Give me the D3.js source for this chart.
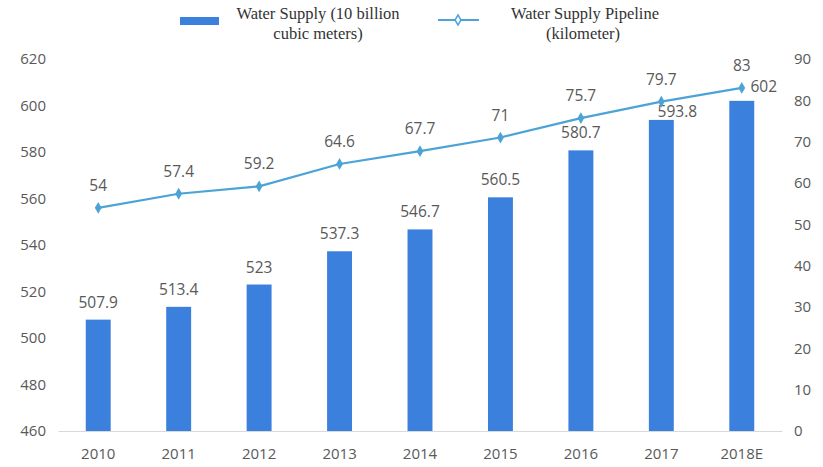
<!DOCTYPE html>
<html>
<head>
<meta charset="utf-8">
<script src="https://cdn.jsdelivr.net/npm/d3@7"></script>
<style>
body { margin: 0; background: #fff; }
text { font-family: "Open Sans", "Noto Sans", sans-serif; }
</style>
</head>
<body>
<div id="chart"></div>
<script>
// data
var years = ["2010", "2011", "2012", "2013", "2014", "2015", "2016", "2017", "2018E"]
var supply = [507.9, 513.4, 523, 537.3, 546.7, 560.5, 580.7, 593.8, 602]
var pipeline = [54, 57.4, 59.2, 64.6, 67.7, 71, 75.7, 79.7, 83]
var leftTicks = [460, 480, 500, 520, 540, 560, 580, 600, 620]
var rightTicks = [0, 10, 20, 30, 40, 50, 60, 70, 80, 90]

var w = 823
var h = 467
var barColor = "#3b80dd"
var lineColor = "#4ba3d6"
var textColor = "#595959"

var svg = d3.select("#chart")
    .append("svg")
    .attr("width", w)
    .attr("height", h)

var x = d3.scaleBand()
    .domain(years)
    .range([58, 782])
    .paddingInner(0.69)
    .paddingOuter(0.345)

var yL = d3.scaleLinear().domain([460, 620]).range([431, 59])
var yR = d3.scaleLinear().domain([0, 90]).range([431, 59])

// axes
var leftAxis = svg.append("g")
    .attr("transform", "translate(46,0)")
    .call(d3.axisLeft(yL).tickValues(leftTicks).tickSize(0).tickPadding(0))
leftAxis.select(".domain").remove()

var rightAxis = svg.append("g")
    .attr("transform", "translate(794,0)")
    .call(d3.axisRight(yR).tickValues(rightTicks).tickSize(0).tickPadding(0))
rightAxis.select(".domain").remove()

var bottomAxis = svg.append("g")
    .attr("transform", "translate(0,431)")
    .call(d3.axisBottom(x).tickSize(0).tickPadding(17))
bottomAxis.select(".domain").attr("stroke", "#d9d9d9")

svg.selectAll(".tick text")
    .attr("fill", textColor)
    .style("font-size", "15px")
    .style("font-family", "'Open Sans', sans-serif")

// bars
svg.selectAll(".bar")
    .data(supply)
    .enter()
    .append("rect")
    .attr("class", "bar")
    .attr("x", (d, i) => x(years[i]))
    .attr("width", x.bandwidth())
    .attr("y", d => yL(d))
    .attr("height", d => yL(460) - yL(d))
    .attr("fill", barColor)

// last two labels are nudged right, as in the original, to dodge the line
function labelDx(i) {
    if (i == years.length - 1) return 22
    if (i == years.length - 2) return 16
    return 0
}
function labelDy(i) {
    if (i == years.length - 1) return 9
    if (i == years.length - 2) return 3
    return 12
}

svg.selectAll(".barlabel")
    .data(supply)
    .enter()
    .append("text")
    .attr("class", "barlabel")
    .attr("x", (d, i) => x(years[i]) + x.bandwidth() / 2 + labelDx(i))
    .attr("y", (d, i) => yL(d) - labelDy(i))
    .attr("text-anchor", "middle")
    .attr("fill", textColor)
    .style("font-size", "15.5px")
    .text(d => d)

// line
var line = d3.line()
    .x((d, i) => x(years[i]) + x.bandwidth() / 2)
    .y(d => yR(d))

svg.append("path")
    .attr("d", line(pipeline))
    .attr("fill", "none")
    .attr("stroke", lineColor)
    .attr("stroke-width", 2.2)

svg.selectAll(".pt")
    .data(pipeline)
    .enter()
    .append("path")
    .attr("class", "pt")
    .attr("d", d3.symbol().type(d3.symbolDiamond).size(40))
    .attr("transform", (d, i) => "translate(" + (x(years[i]) + x.bandwidth() / 2) + "," + yR(d) + ")")
    .attr("fill", lineColor)

svg.selectAll(".ptlabel")
    .data(pipeline)
    .enter()
    .append("text")
    .attr("class", "ptlabel")
    .attr("x", (d, i) => x(years[i]) + x.bandwidth() / 2)
    .attr("y", d => yR(d) - 17)
    .attr("text-anchor", "middle")
    .attr("fill", textColor)
    .style("font-size", "15.5px")
    .text(d => d)

// legend
var legend = svg.append("g")
legend.append("rect")
    .attr("x", 180).attr("y", 17)
    .attr("width", 39).attr("height", 8)
    .attr("fill", barColor)
legend.append("text")
    .attr("x", 318).attr("y", 19)
    .attr("text-anchor", "middle")
    .style("font-family", "'Liberation Serif', serif")
    .style("font-size", "16.5px")
    .attr("fill", "#333")
    .text("Water Supply (10 billion")
legend.append("text")
    .attr("x", 318).attr("y", 39)
    .attr("text-anchor", "middle")
    .style("font-family", "'Liberation Serif', serif")
    .style("font-size", "16.5px")
    .attr("fill", "#333")
    .text("cubic meters)")

legend.append("line")
    .attr("x1", 438).attr("x2", 479)
    .attr("y1", 20).attr("y2", 20)
    .attr("stroke", lineColor)
    .attr("stroke-width", 2)
legend.append("path")
    .attr("d", d3.symbol().type(d3.symbolDiamond).size(30))
    .attr("transform", "translate(458,20)")
    .attr("fill", "#fff")
    .attr("stroke", lineColor)
    .attr("stroke-width", 1.5)
legend.append("text")
    .attr("x", 585).attr("y", 19)
    .attr("text-anchor", "middle")
    .style("font-family", "'Liberation Serif', serif")
    .style("font-size", "16.5px")
    .attr("fill", "#333")
    .text("Water Supply Pipeline")
legend.append("text")
    .attr("x", 583).attr("y", 39)
    .attr("text-anchor", "middle")
    .style("font-family", "'Liberation Serif', serif")
    .style("font-size", "16.5px")
    .attr("fill", "#333")
    .text("(kilometer)")
</script>
</body>
</html>
